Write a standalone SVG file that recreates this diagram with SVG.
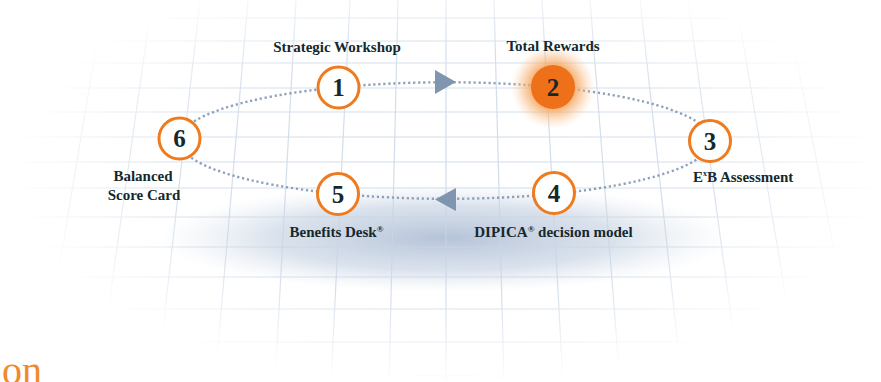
<svg xmlns="http://www.w3.org/2000/svg" width="881" height="382" viewBox="0 0 881 382">
<style>
.grid line{stroke:#c8d5e6;stroke-width:1.2}
.lbl{font-family:"Liberation Serif","DejaVu Serif",serif;font-weight:bold;font-size:15px;fill:#15282c}
.num{font-family:"Liberation Serif","DejaVu Serif",serif;font-weight:bold;font-size:25px;fill:#15282c;text-anchor:middle}
.ring{fill:#fff;stroke:#ef7b1e;stroke-width:3}
.conn{fill:none;stroke:#8ba0ba;stroke-width:2.4;stroke-dasharray:2.2 2.8}
.arrow{fill:#7f95b0}
</style>
<defs>
<radialGradient id="fade">
<stop offset="0" stop-color="#fff" stop-opacity="0.85"/>
<stop offset="0.6" stop-color="#fff" stop-opacity="0.75"/>
<stop offset="1" stop-color="#fff" stop-opacity="0"/>
</radialGradient>
<mask id="gm" maskUnits="userSpaceOnUse" x="0" y="0" width="881" height="382">
<ellipse cx="445" cy="172" rx="435" ry="215" fill="url(#fade)"/>
</mask>
<radialGradient id="blob">
<stop offset="0" stop-color="#a9b9d2" stop-opacity="0.85"/>
<stop offset="0.6" stop-color="#bccadd" stop-opacity="0.55"/>
<stop offset="1" stop-color="#d5deea" stop-opacity="0"/>
</radialGradient>
<radialGradient id="glow">
<stop offset="0.45" stop-color="#f49a4c" stop-opacity="0.9"/>
<stop offset="0.7" stop-color="#f7b57a" stop-opacity="0.55"/>
<stop offset="1" stop-color="#fbd3ad" stop-opacity="0"/>
</radialGradient>
</defs>
<rect width="881" height="382" fill="#fff"/>

<g id="shadow">
<ellipse cx="445" cy="238" rx="285" ry="54" fill="url(#blob)"/>
</g>

<g id="grid" mask="url(#gm)">
<g class="grid">
<line x1="0" y1="18" x2="881" y2="18"/>
<line x1="0" y1="41" x2="881" y2="41"/>
<line x1="0" y1="63" x2="881" y2="63"/>
<line x1="0" y1="88" x2="881" y2="88"/>
<line x1="0" y1="112" x2="881" y2="112"/>
<line x1="0" y1="137" x2="881" y2="137"/>
<line x1="0" y1="162" x2="881" y2="162"/>
<line x1="0" y1="188" x2="881" y2="188"/>
<line x1="0" y1="217" x2="881" y2="217"/>
<line x1="0" y1="247" x2="881" y2="247"/>
<line x1="0" y1="277" x2="881" y2="277"/>
<line x1="0" y1="309" x2="881" y2="309"/>
<line x1="0" y1="342" x2="881" y2="342"/>
<line x1="0" y1="376" x2="881" y2="376"/>
</g>
<g class="grid">
<line x1="46" y1="0" x2="-20" y2="382"/>
<line x1="104" y1="0" x2="40" y2="382"/>
<line x1="152" y1="0" x2="98" y2="382"/>
<line x1="200" y1="0" x2="157" y2="382"/>
<line x1="248" y1="0" x2="215" y2="382"/>
<line x1="296" y1="0" x2="275" y2="382"/>
<line x1="350" y1="0" x2="331" y2="382"/>
<line x1="398" y1="0" x2="389" y2="382"/>
<line x1="446" y1="0" x2="446" y2="382"/>
<line x1="494" y1="0" x2="504" y2="382"/>
<line x1="542" y1="0" x2="563" y2="382"/>
<line x1="590" y1="0" x2="620" y2="382"/>
<line x1="640" y1="0" x2="682" y2="382"/>
<line x1="688" y1="0" x2="740" y2="382"/>
<line x1="736" y1="0" x2="800" y2="382"/>
<line x1="785" y1="0" x2="860" y2="382"/>
<line x1="834" y1="0" x2="920" y2="382"/>
</g>
</g>

<g id="connectors">
<path class="conn" d="M179.5 140.5 A265.5 58 0 0 1 338.5 87.3"/>
<path class="conn" d="M338.5 87.3 A265.5 58 0 0 1 553 87.1"/>
<path class="conn" d="M553 87.1 A265.5 58 0 0 1 710.5 140.5"/>
<path class="conn" d="M710.5 140.5 A265.5 58 0 0 1 554 193.9"/>
<path class="conn" d="M554 193.9 A265.5 58 0 0 1 338 193.7"/>
<path class="conn" d="M338 193.7 A265.5 58 0 0 1 179.5 140.5"/>
<polygon class="arrow" points="435,70 456,82 435,94"/>
<polygon class="arrow" points="435,199.5 456,188 456,211"/>
</g>

<g id="node1">
<circle class="ring" cx="338.5" cy="87.5" r="20.5"/>
<text class="num" x="338.5" y="96">1</text>
<text class="lbl" x="337" y="52" text-anchor="middle">Strategic Workshop</text>
</g>
<g id="node2">
<circle cx="553" cy="87" r="42" fill="url(#glow)"/>
<circle cx="553" cy="87" r="22" fill="#ee7019"/>
<text class="num" x="553" y="95.5">2</text>
<text class="lbl" x="553" y="51" text-anchor="middle">Total Rewards</text>
</g>
<g id="node3">
<circle class="ring" cx="710" cy="141" r="20.5"/>
<text class="num" x="710" y="149.5">3</text>
<text class="lbl" x="693" y="182">E<tspan font-size="8" dy="-6">x</tspan><tspan dy="6">B Assessment</tspan></text>
</g>
<g id="node4">
<circle class="ring" cx="554" cy="193" r="20.5"/>
<text class="num" x="554" y="201.5">4</text>
<text class="lbl" x="553.5" y="237" text-anchor="middle">DIPICA<tspan font-size="9" dy="-5">®</tspan><tspan dy="5"> decision model</tspan></text>
</g>
<g id="node5">
<circle class="ring" cx="338" cy="194" r="20.5"/>
<text class="num" x="338" y="202.5">5</text>
<text class="lbl" x="336.5" y="237" text-anchor="middle">Benefits Desk<tspan font-size="9" dy="-5">®</tspan></text>
</g>
<g id="node6">
<circle class="ring" cx="179.5" cy="138.5" r="20.5"/>
<text class="num" x="179.5" y="147">6</text>
<text class="lbl" x="143" y="181" text-anchor="middle">Balanced</text>
<text class="lbl" x="144" y="200" text-anchor="middle">Score Card</text>
</g>

<text x="2" y="384" font-family="Liberation Serif, DejaVu Serif, serif" font-size="40" fill="#f08a2a">on</text>
</svg>
